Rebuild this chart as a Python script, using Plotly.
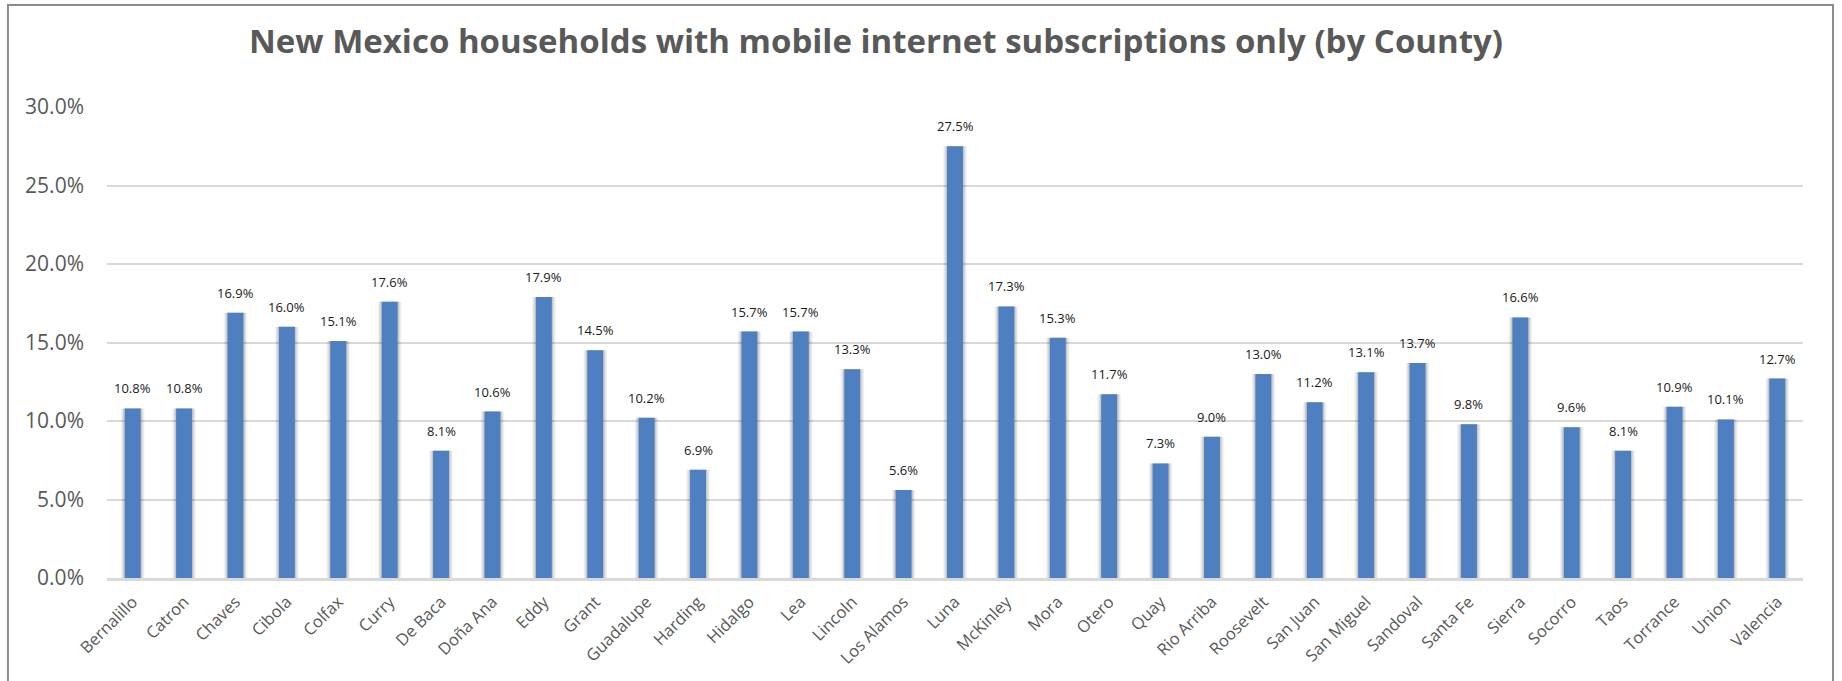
import plotly.graph_objects as go

# County-level share of households whose only internet subscription is mobile
counties = [
    "Bernalillo", "Catron", "Chaves", "Cibola", "Colfax", "Curry", "De Baca",
    "Doña Ana", "Eddy", "Grant", "Guadalupe", "Harding", "Hidalgo", "Lea",
    "Lincoln", "Los Alamos", "Luna", "McKinley", "Mora", "Otero", "Quay",
    "Rio Arriba", "Roosevelt", "San Juan", "San Miguel", "Sandoval",
    "Santa Fe", "Sierra", "Socorro", "Taos", "Torrance", "Union", "Valencia",
]
mobile_only_pct = [
    10.8, 10.8, 16.9, 16.0, 15.1, 17.6, 8.1,
    10.6, 17.9, 14.5, 10.2, 6.9, 15.7, 15.7,
    13.3, 5.6, 27.5, 17.3, 15.3, 11.7, 7.3,
    9.0, 13.0, 11.2, 13.1, 13.7,
    9.8, 16.6, 9.6, 8.1, 10.9, 10.1, 12.7,
]
y_ticks = [0.0, 0.05, 0.10, 0.15, 0.20, 0.25, 0.30]

shares = [v / 100 for v in mobile_only_pct]

TEXT_GRAY = "#595959"
GRID = "#d9d9d9"
BAR_WIDTH = 0.31

fig = go.Figure()

# soft drop shadow behind each column
for w, a in [(0.46, 0.05), (0.41, 0.08), (0.36, 0.11)]:
    fig.add_trace(go.Bar(
        x=counties, y=shares, width=w,
        marker=dict(color=f"rgba(0,0,0,{a})", line=dict(width=0)),
        hoverinfo="skip", showlegend=False,
    ))

fig.add_trace(go.Bar(
    x=counties, y=shares, width=BAR_WIDTH,
    marker=dict(color="#4d7fc1", line=dict(width=0)),
    hovertemplate="%{x}: %{y:.1%}<extra></extra>",
    showlegend=False,
))

# value labels above the columns
for c, v in zip(counties, shares):
    fig.add_annotation(
        x=c, y=v, text=f"{v:.1%}", showarrow=False,
        yanchor="bottom", yshift=9,
        font=dict(family="Open Sans", size=13, color="#1a1a1a"),
    )

# outer chart frame
fig.add_shape(
    type="rect", xref="paper", yref="paper",
    x0=-0.0584, x1=1.0177, y0=-0.25, y1=1.2166,
    line=dict(color="#8c8c8c", width=2), fillcolor="rgba(0,0,0,0)", layer="below",
)

fig.update_layout(
    width=1842, height=681,
    barmode="overlay",
    paper_bgcolor="white", plot_bgcolor="white",
    margin=dict(l=107, r=39, t=107, b=103),
    title=dict(
        text="<b>New Mexico households with mobile internet subscriptions only (by County)</b>",
        x=876 / 1842, xanchor="center", xref="container",
        y=1 - 41 / 681, yanchor="middle", yref="container",
        font=dict(family="Open Sans", size=33, color=TEXT_GRAY),
    ),
    font=dict(family="Open Sans", color=TEXT_GRAY),
)

fig.update_xaxes(
    type="category",
    tickangle=-45,
    tickfont=dict(family="Open Sans", size=16.5, color=TEXT_GRAY),
    showline=True, linecolor=GRID, linewidth=2.5,
    showgrid=False, ticks="", ticklabelstandoff=5,
)

fig.update_yaxes(
    range=[0, 0.30],
    tickvals=y_ticks, tickformat=".1%",
    tickfont=dict(family="Open Sans", size=21, color=TEXT_GRAY),
    showgrid=True, gridcolor=GRID, gridwidth=1.5,
    zeroline=False, showline=False, ticks="", ticklabelstandoff=22,
)

fig.write_html("out.html")
